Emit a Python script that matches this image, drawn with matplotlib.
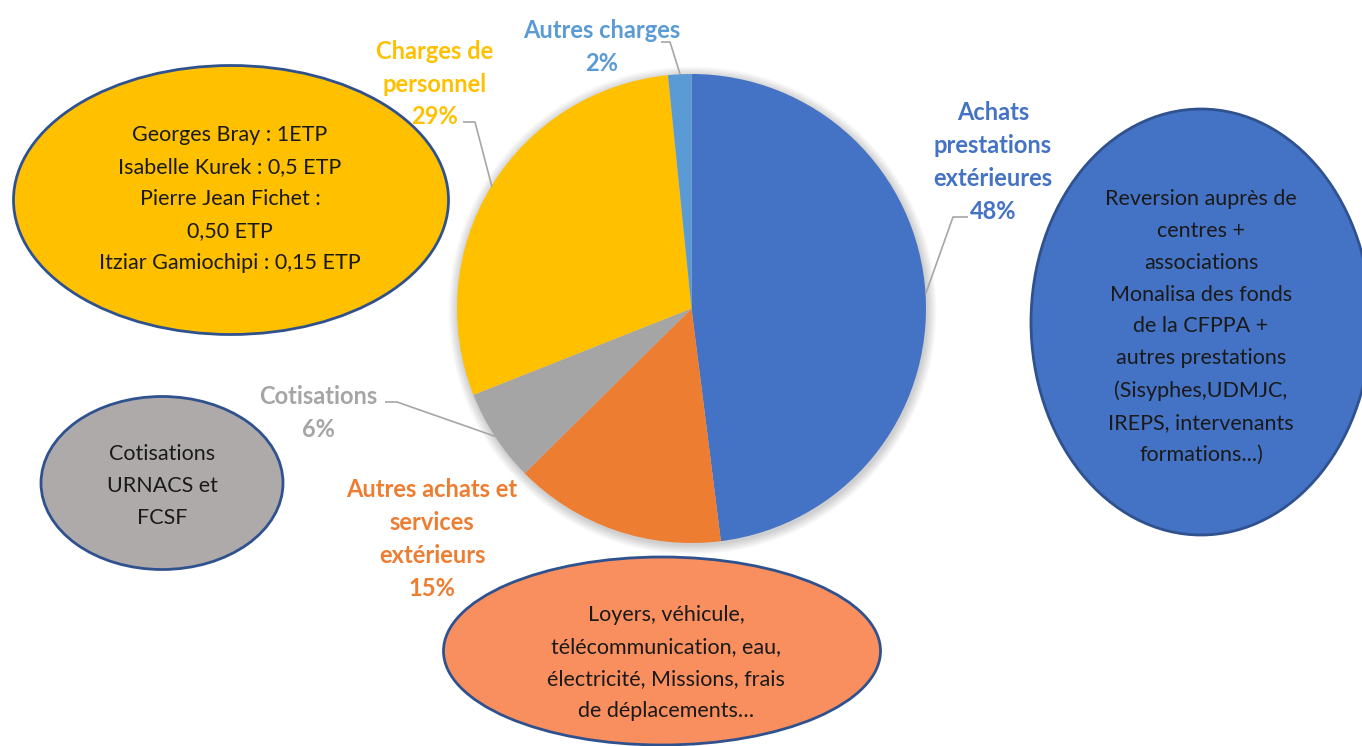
import matplotlib
matplotlib.use("Agg")
import matplotlib.pyplot as plt
from matplotlib.patches import Ellipse, Circle, Rectangle

plt.rcParams['font.family'] = ['Lato', 'DejaVu Sans']

# slices, clockwise from 12 o'clock
labels = ["Achats\nprestations\nextérieures", "Autres achats et\nservices\nextérieurs",
          "Cotisations", "Charges de\npersonnel", "Autres charges"]
shares = [48.0, 14.6, 6.4, 29.4, 1.6]
pct_text = ["48%", "15%", "6%", "29%", "2%"]
slice_colors = ["#4472C4", "#ED7D31", "#A5A5A5", "#FFC000", "#5B9BD5"]

# comment bubbles
notes = [
    "Georges Bray : 1ETP\nIsabelle Kurek : 0,5 ETP\nPierre Jean Fichet :\n0,50 ETP\nItziar Gamiochipi : 0,15 ETP",
    "Cotisations\nURNACS et\nFCSF",
    "Reversion auprès de\ncentres +\nassociations\nMonalisa des fonds\nde la CFPPA +\nautres prestations\n(Sisyphes,UDMJC,\nIREPS, intervenants\nformations...)",
    "Loyers, véhicule,\ntélécommunication, eau,\nélectricité, Missions, frais\nde déplacements…",
]
note_colors = ["#FFC000", "#AEAAAA", "#4472C4", "#F98E5E"]

W, H = 1362, 746
fig = plt.figure(figsize=(W / 100, H / 100), dpi=100)
ax = fig.add_axes([0, 0, 1, 1])

cx, cy, r = 691.5, 308.5, 234.5

# soft shadow behind the pie
for i in range(8):
    ax.add_patch(Circle((cx + 1, cy + 2), r + 1 + i * 1.2, color="black",
                        alpha=0.025, lw=0, zorder=1))

# y axis is flipped below, so counterclock in data = clockwise on screen
ax.pie(shares, colors=slice_colors, center=(cx, cy), radius=r,
       startangle=-90, counterclock=True, frame=True,
       wedgeprops=dict(linewidth=0, zorder=2))
ax.set_xlim(0, W)
ax.set_ylim(H, 0)
ax.set_aspect("equal")
ax.axis("off")

# data labels (centre of the text block) and leader lines
label_pos = [(993, 162), (432, 539), (318, 413), (435, 84), (602, 47)]
leaders = [
    [(968, 217), (953, 217), (926, 293)],
    None,
    [(385, 402), (397, 402), (497, 437)],
    [(463, 122), (475, 122), (492, 187)],
    [(661, 42), (670, 42), (680, 74)],
]
for lab, pct, col, (x, y), ld in zip(labels, pct_text, slice_colors, label_pos, leaders):
    ax.text(x, y, lab + "\n" + pct, color=col, fontsize=17, fontweight="bold",
            ha="center", va="center", multialignment="center", linespacing=1.52,
            zorder=5)
    if ld:
        ax.plot([p[0] for p in ld], [p[1] for p in ld], color="#A6A6A6", lw=1.2,
                zorder=4, solid_capstyle="butt")

# bubbles: centre, width, height
bubble_geom = [((231, 200), 435, 269), ((162, 483), 242, 173),
               ((1201, 322), 340, 426), ((662, 651), 437, 188)]
text_centres = [(230, 199), (162, 486), (1201, 327), (666, 663)]
for note, col, (c, w, h), tc in zip(notes, note_colors, bubble_geom, text_centres):
    ax.add_patch(Ellipse(c, w, h, facecolor=col, edgecolor="#2F528F", lw=2, zorder=3))
    t = ax.text(tc[0], tc[1], note, color="#1A1A1A", fontsize=15.5, ha="center",
                va="center", multialignment="center", linespacing=1.74, zorder=6)
    if col == "#F98E5E":
        # the last line is cut off in the original
        t.set_clip_path(Rectangle((440, 560), 440, 156, transform=ax.transData))

fig.savefig("out.png", dpi=100)
